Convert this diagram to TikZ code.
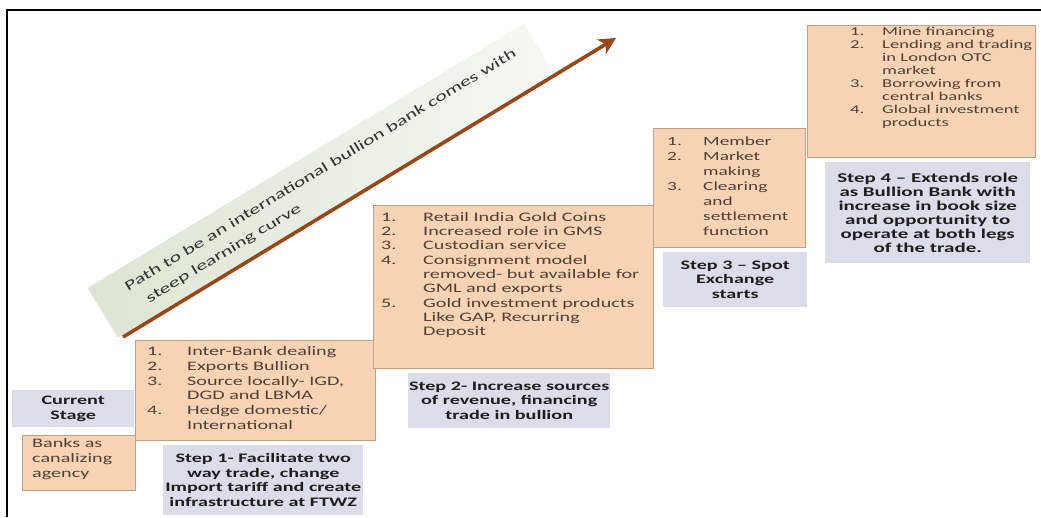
\documentclass[tikz,border=0pt]{standalone}
\usepackage{fontspec}
\setmainfont{Carlito}[FakeStretch=1.55]
\usetikzlibrary{arrows.meta}
\definecolor{peach}{HTML}{F9D4B4}
\definecolor{peachline}{HTML}{C29E82}
\definecolor{lav}{HTML}{DDDCE9}
\definecolor{itemtext}{HTML}{4F4038}
\definecolor{captext}{HTML}{1E1E1E}
\definecolor{arrowbrown}{HTML}{984818}
\definecolor{bannerA}{HTML}{DCE5D2}
\definecolor{bannerB}{HTML}{F6F8F3}
\begin{document}
\begin{tikzpicture}[x=1pt,y=-1pt,
  stagebox/.style={draw=peachline, line width=0.7pt, fill=peach, anchor=north west, inner sep=0pt},
  capbox/.style={fill=lav, anchor=north west, inner sep=0pt, align=center,
    text=captext, font=\bfseries\fontsize{13}{14.5}\selectfont},
  itemlist/.style={anchor=north west, inner sep=0pt, text=itemtext, align=left},
]
\useasboundingbox (0,0) rectangle (1041,517);
\fill[white] (0,0) rectangle (1041,517);

% outer frame
\draw[line width=1.3pt] (7,517) -- (7,10) -- (1041,10);

% banner lying along the growth path
\node[rotate=31.2, anchor=south west, minimum width=510pt, minimum height=58pt,
      inner sep=0pt, left color=bannerA, right color=bannerB] (banner) at (117.7,337.9) {};
\node[rotate=31.2, anchor=west, inner sep=0pt, align=left, text=black!80,
      font=\fontsize{14}{21}\selectfont] (bannertext) at (131.6,297.3)
  {Path to be an international bullion bank comes with\\\hspace*{12pt}steep learning curve};

% growth arrow
\coordinate (pathstart) at (123,337);
\coordinate (pathend) at (616,38);
\draw[arrowbrown, line width=3.6pt, -{Stealth[length=17pt,width=17pt,inset=5pt]}]
  (pathstart) -- (pathend);

% current stage
\node[capbox, minimum width=122pt, minimum height=37pt] (curcap) at (12,390)
  {Current\\Stage};
\node[stagebox, minimum width=113pt, minimum height=55pt] (curbox) at (22,435) {};
\node[itemlist, font=\fontsize{13}{15}\selectfont] (curtext) at (32,438)
  {Banks as\\canalizing\\agency};

% step 1
\node[stagebox, minimum width=240pt, minimum height=100pt] (s1box) at (135,340) {};
\node[itemlist, font=\fontsize{13}{14.8}\selectfont] (s1text) at (147,345)
  {\begin{tabular}{@{}p{40pt}@{}l@{}}
   1. & Inter-Bank dealing\\
   2. & Exports Bullion\\
   3. & Source locally- IGD,\\
      & DGD and LBMA\\
   4. & Hedge domestic/\\
      & International
   \end{tabular}};
\node[capbox, minimum width=200pt, minimum height=70pt] (s1cap) at (163,445)
  {Step 1- Facilitate two\\way trade, change\\Import tariff and create\\infrastructure at FTWZ};

% step 2
\node[stagebox, minimum width=280pt, minimum height=163pt] (s2box) at (373,205) {};
\node[itemlist, font=\fontsize{13}{14.3}\selectfont] (s2text) at (381,211)
  {\begin{tabular}{@{}p{42pt}@{}l@{}}
   1. & Retail India Gold Coins\\
   2. & Increased role in GMS\\
   3. & Custodian service\\
   4. & Consignment model\\
      & removed- but available for\\
      & GML and exports\\
   5. & Gold investment products\\
      & Like GAP, Recurring\\
      & Deposit
   \end{tabular}};
\node[capbox, minimum width=202pt, minimum height=55pt] (s2cap) at (408,373)
  {Step 2- Increase sources\\of revenue, financing\\trade in bullion};

% step 3
\node[stagebox, minimum width=152pt, minimum height=119pt] (s3box) at (653,128) {};
\node[itemlist, font=\fontsize{12.5}{15}\selectfont] (s3text) at (667,135)
  {\begin{tabular}{@{}p{36pt}@{}l@{}}
   1. & Member\\
   2. & Market\\
      & making\\
   3. & Clearing\\
      & and\\
      & settlement\\
      & function
   \end{tabular}};
\node[capbox, minimum width=144pt, minimum height=55pt] (s3cap) at (663,252)
  {Step 3 -- Spot\\Exchange\\starts};

% step 4
\node[stagebox, minimum width=228pt, minimum height=132pt] (s4box) at (807,25) {};
\node[itemlist, font=\fontsize{12}{13}\selectfont] (s4text) at (850,26)
  {\begin{tabular}{@{}p{32pt}@{}l@{}}
   1. & Mine financing\\
   2. & Lending and trading\\
      & in London OTC\\
      & market\\
   3. & Borrowing from\\
      & central banks\\
   4. & Global investment\\
      & products
   \end{tabular}};
\node[capbox, minimum width=205pt, minimum height=101pt,
      font=\bfseries\fontsize{13.5}{14}\selectfont] (s4cap) at (825,162)
  {Step 4 -- Extends role\\as Bullion Bank with\\increase in book size\\and opportunity to\\operate at both legs\\of the trade.};
\end{tikzpicture}
\end{document}
